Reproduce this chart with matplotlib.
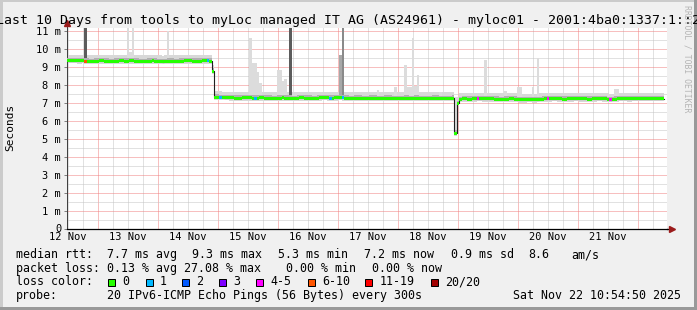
import numpy as np
import pandas as pd
import matplotlib
matplotlib.use("Agg")
import matplotlib.pyplot as plt
import matplotlib.dates as mdates
from matplotlib.patches import Rectangle
from matplotlib.ticker import MultipleLocator, FuncFormatter, NullFormatter

plt.rcParams["font.family"] = ["DejaVu Sans Mono"]

# hourly median rtt in ms, first hour starts 12 Nov 11:30 (last hour still empty)
median_ms = [
    9.33, 9.33, 9.32, 9.32, 9.31, 9.31, 9.32, 9.30, 9.30, 9.29, 9.29, 9.30,
    9.30, 9.31, 9.31, 9.30, 9.30, 9.29, 9.29, 9.30, 9.30, 9.31, 9.31, 9.30,
    9.30, 9.31, 9.31, 9.30, 9.30, 9.29, 9.29, 9.29, 9.30, 9.30, 9.31, 9.30,
    9.29, 9.29, 9.28, 9.29, 9.30, 9.30, 9.30, 9.29, 9.29, 9.30, 9.30, 9.31,
    9.31, 9.31, 9.30, 9.30, 9.30, 9.30, 9.31, 9.31, 9.31, 9.30, 8.75, 7.30,
    7.30, 7.29, 7.28, 7.27, 7.27, 7.26, 7.26, 7.25, 7.25, 7.25, 7.26, 7.26,
    7.26, 7.26, 7.25, 7.25, 7.25, 7.26, 7.26, 7.25, 7.25, 7.25, 7.24, 7.24,
    7.25, 7.25, 7.26, 7.25, 7.25, 7.25, 7.24, 7.24, 7.25, 7.26, 7.26, 7.25,
    7.25, 7.25, 7.24, 7.24, 7.25, 7.26, 7.27, 7.27, 7.26, 7.25, 7.25, 7.26,
    7.26, 7.27, 7.26, 7.25, 7.25, 7.24, 7.24, 7.25, 7.25, 7.25, 7.24, 7.24,
    7.24, 7.25, 7.25, 7.25, 7.24, 7.24, 7.24, 7.25, 7.25, 7.25, 7.24, 7.24,
    7.23, 7.24, 7.24, 7.25, 7.25, 7.24, 7.24, 7.25, 7.25, 7.24, 7.24, 7.24,
    7.24, 7.24, 7.25, 7.25, 7.25, 7.24, 7.24, 7.24, 7.24, 7.24, 7.25, 5.30,
    6.95, 7.18, 7.20, 7.20, 7.19, 7.19, 7.20, 7.20, 7.21, 7.21, 7.20, 7.20,
    7.20, 7.20, 7.20, 7.19, 7.19, 7.18, 7.18, 7.19, 7.19, 7.20, 7.20, 7.19,
    7.16, 7.15, 7.15, 7.15, 7.16, 7.16, 7.15, 7.15, 7.16, 7.18, 7.19, 7.20,
    7.20, 7.20, 7.21, 7.21, 7.20, 7.20, 7.19, 7.19, 7.20, 7.20, 7.20, 7.21,
    7.21, 7.20, 7.20, 7.20, 7.19, 7.19, 7.20, 7.20, 7.21, 7.21, 7.20, 7.20,
    7.18, 7.16, 7.17, 7.19, 7.20, 7.21, 7.21, 7.21, 7.20, 7.20, 7.21, 7.21,
    7.21, 7.22, 7.22, 7.21, 7.21, 7.21, 7.22, 7.22, 7.21, 7.21, 7.22, np.nan,
]

# hours with lost pings (average lost pings out of 20)
loss_hours = [7, 56, 61, 75, 105, 110, 164, 192, 217]
loss_pings = [5.4, 1, 1, 1, 1, 1, 4, 4, 4]

# smoke outliers: hour, top of smoke (ms), density
spike_hours = [7, 24, 25, 26, 40, 73, 74, 75, 76, 77, 84, 85, 86, 87, 89,
               109, 110, 124, 131, 135, 136, 137, 138, 139, 140, 149, 155,
               167, 175, 180, 181, 186, 188, 219, 220]
spike_top_ms = [11.2, 11.2, 9.8, 11.2, 11.0, 10.6, 9.2, 9.2, 8.7, 8.1, 8.8,
                8.8, 8.2, 8.3, 11.2, 9.65, 11.2, 7.7, 7.85, 9.06, 7.85, 7.85,
                10.6, 7.9, 8.55, 7.6, 7.3, 9.35, 7.65, 7.85, 7.85, 7.85, 9.5,
                7.75, 7.75]
spike_tone = ["dark"] + ["light"] * 13 + ["dark", "mid", "darkmid"] + ["light"] * 18

loss_labels = ["0", "1", "2", "3", "4-5", "6-10", "11-19", "20/20"]
loss_limits = [0, 1, 2, 3, 5, 10, 19, 20]
loss_colors = ["#26ff00", "#00b8ff", "#0059ff", "#7e00ff", "#ff00ff",
               "#ff5500", "#ff0000", "#a10000"]

rtt_stats = ["7.7 ms avg", "9.3 ms max", "5.3 ms min", "7.2 ms now",
             "0.9 ms sd", "8.6", "am/s"]
loss_stats = ["0.13 % avg", "27.08 % max", "0.00 % min", "0.00 % now"]
probe_text = "20 IPv6-ICMP Echo Pings (56 Bytes) every 300s"
stamp_text = "Sat Nov 22 10:54:50 2025"
title = "Last 10 Days from tools to myLoc managed IT AG (AS24961) - myloc01 - 2001:4ba0:1337:1::2"

start = pd.Timestamp("2025-11-12 11:30")
end = pd.Timestamp("2025-11-22 11:30")

med = np.array(median_ms, dtype=float)
n = int(np.sum(~np.isnan(med)))
med = med[:n]
edges = mdates.date2num(pd.date_range(start, periods=n + 1, freq="h"))


def steps(vals):
    return np.repeat(edges, 2)[1:-1], np.repeat(vals, 2)


lost = np.zeros(n)
lost[loss_hours] = loss_pings
cls = np.searchsorted(loss_limits, lost, side="left")

W, H = 697, 310
fx = lambda x: x / W
fy = lambda y: 1 - y / H

fig = plt.figure(figsize=(W / 100, H / 100), dpi=100, facecolor="#f0f0f0")
ax = fig.add_axes([fx(67), fy(228.5), 600 / W, 201 / H])
ax.set_facecolor("white")

xs, m2 = steps(med)
ax.fill_between(xs, m2 - 0.15, m2 + 0.33, color="#d8d8d8", lw=0, zorder=2)
tones = {"light": "#dcdcdc", "mid": "#a8a8a8", "darkmid": "#8a8a8a", "dark": "#5c5c5c"}
base = med[spike_hours]
ax.bar(edges[spike_hours], np.array(spike_top_ms) - base, bottom=base,
       width=1 / 24, align="edge", color=[tones[t] for t in spike_tone],
       lw=0, zorder=2.5)
ax.fill_between(xs, m2 - 0.07, m2 + 0.15, color="#b0b0b0", lw=0, zorder=3)
ax.plot(xs, m2, color="#202020", lw=0.8, zorder=4)
c2 = np.repeat(cls, 2)
for k, col in enumerate(loss_colors):
    sel = c2 == k
    if sel.any():
        ax.fill_between(xs, m2 - 0.085, m2 + 0.085, where=sel, color=col,
                        lw=0, zorder=5)

ax.set_xlim(mdates.date2num(start), mdates.date2num(end))
ax.set_ylim(0, 11.17)

ax.xaxis.set_major_locator(mdates.DayLocator())
ax.xaxis.set_minor_locator(mdates.HourLocator(byhour=[6, 12, 18]))
ax.xaxis.set_major_formatter(NullFormatter())


def day_label(v, pos):
    d = mdates.num2date(v)
    return d.strftime("%d %b") if d.hour == 12 else ""


ax.xaxis.set_minor_formatter(FuncFormatter(day_label))
ax.yaxis.set_major_locator(MultipleLocator(1))
ax.yaxis.set_minor_locator(MultipleLocator(0.5))
ax.yaxis.set_major_formatter(FuncFormatter(lambda v, p: "0" if v == 0 else f"{v:.0f} m"))

ax.tick_params(axis="x", which="both", length=0, pad=2.2, labelsize=7.5)
ax.tick_params(axis="y", which="major", length=2.2, width=0.72, color="#808080",
               pad=2, labelsize=7.5)
ax.tick_params(axis="y", which="minor", length=0)

ax.set_axisbelow(True)
ax.grid(True, which="major", color="#f08080", lw=0.72, ls=(0, (1, 1)))
ax.grid(True, which="minor", color="#c4c4c4", lw=0.72, ls=(0, (1, 1)))

for s in ["top", "right"]:
    ax.spines[s].set_visible(False)
ax.spines["left"].set_color("#404040")
ax.spines["left"].set_linewidth(0.72)
ax.spines["bottom"].set_color("black")
ax.spines["bottom"].set_linewidth(0.9)

# axis arrows
ax.plot([1, 1.006], [0, 0], transform=ax.transAxes, color="black", lw=0.9, clip_on=False)
ax.plot(1.0075, 0, marker=">", ms=4.5, color="#9b1b1b", transform=ax.transAxes, clip_on=False)
ax.plot([0, 0], [1, 1.012], transform=ax.transAxes, color="#404040", lw=0.72, clip_on=False)
ax.plot(0, 1.02, marker="^", ms=4.5, color="#9b1b1b", transform=ax.transAxes, clip_on=False)

fig.text(fx(348.5), fy(24), title, ha="center", va="baseline", fontsize=9.57)
fig.text(fx(10.5), fy(127), "Seconds", rotation=90, ha="center", va="center", fontsize=8)
fig.text(fx(687.5), fy(5), "RRDTOOL / TOBI OETIKER", rotation=-90, ha="center",
         va="top", fontsize=5.9, color="#b4b4b4")

fs = 8.37
rows = [258.3, 271.7, 285.3, 298.8]
fig.text(fx(15.5), fy(rows[0]), "median rtt:", fontsize=fs, va="baseline")
for s, x in zip(rtt_stats, [107, 192.3, 278, 364, 451.3, 528, 571.3]):
    fig.text(fx(x), fy(rows[0]), s, fontsize=fs, va="baseline")
fig.text(fx(15.5), fy(rows[1]), "packet loss:", fontsize=fs, va="baseline")
for s, x in zip(loss_stats, [107, 184, 286.5, 372.3]):
    fig.text(fx(x), fy(rows[1]), s, fontsize=fs, va="baseline")
fig.text(fx(15.5), fy(rows[2]), "loss color:", fontsize=fs, va="baseline")
box_x = [108.3, 145.7, 182.3, 219.3, 256, 308.3, 365, 430.7]
for lab, col, x in zip(loss_labels, loss_colors, box_x):
    fig.add_artist(Rectangle((fx(x), fy(285.5)), 7 / W, 7 / H, transform=fig.transFigure,
                             facecolor=col, edgecolor="black", lw=0.72))
    fig.text(fx(x + 14.3), fy(rows[2]), lab, fontsize=fs, va="baseline")
fig.text(fx(15.5), fy(rows[3]), "probe:", fontsize=fs, va="baseline")
fig.text(fx(107), fy(rows[3]), probe_text, fontsize=fs, va="baseline")
fig.text(fx(513), fy(rows[3]), stamp_text, fontsize=fs, va="baseline")

# 3d frame
for (x0, y0, w, h, c) in [(0, 0, W, 2, "#cbcbcb"), (0, 0, 2.5, H, "#cbcbcb"),
                          (W - 3, 0, 3, H, "#999999"), (0, H - 3, W, 3, "#999999")]:
    fig.add_artist(Rectangle((fx(x0), fy(y0 + h)), w / W, h / H, transform=fig.transFigure,
                             facecolor=c, edgecolor="none", lw=0))

fig.savefig("out.png", dpi=100, facecolor=fig.get_facecolor())
